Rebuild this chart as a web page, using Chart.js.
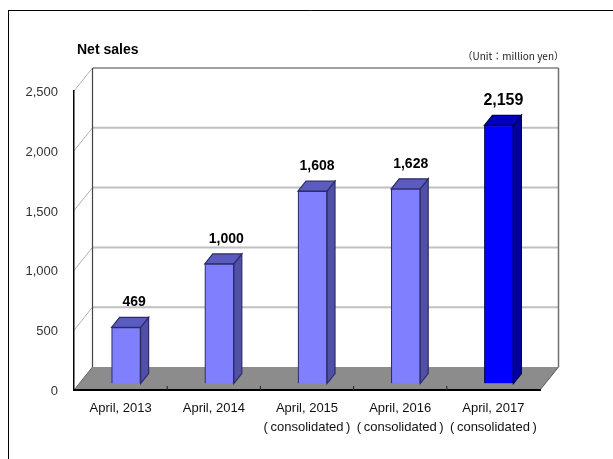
<!DOCTYPE html>
<html>
<head>
<meta charset="utf-8">
<style>
  html, body { margin: 0; padding: 0; background: #fff; }
  canvas { display: block; }
</style>
<script src="https://cdn.jsdelivr.net/npm/chart.js@4"></script>
</head>
<body>
<canvas id="salesChart" width="613" height="459"></canvas>
<script>
const categories = [
  ["April, 2013"],
  ["April, 2014"],
  ["April, 2015", "(\u2009consolidated\u2009)"],
  ["April, 2016", "(\u2009consolidated\u2009)"],
  ["April, 2017", "(\u2009consolidated\u2009)"],
];
const netSales = [469, 1000, 1608, 1628, 2159];
const yTicks = [0, 500, 1000, 1500, 2000, 2500];

const frontColors = ["#8080ff", "#8080ff", "#8080ff", "#8080ff", "#0000ff"];
const sideColors = ["#5050a8", "#5050a8", "#5050a8", "#5050a8", "#0000a0"];
const topColors = ["#5c5cc0", "#5c5cc0", "#5c5cc0", "#5c5cc0", "#0000c0"];
const edgeColors = ["#2c2c66", "#2c2c66", "#2c2c66", "#2c2c66", "#00004c"];

const FONT = '"Liberation Sans", sans-serif';
const NOTE_FONT = '"Noto Sans CJK JP", sans-serif';

// depth of the fake 3D box, and where the bars sit inside it
const WALL_DX = 18.5;
const WALL_DY = -23;
const BAR_DX = 5.5;
const BAR_DY = -6.5;
const BAR_DEPTH_X = 8;
const BAR_DEPTH_Y = -10;
// value labels are not quite centred on their bars in the original
const LABEL_NUDGE_X = [4, 3, 0.5, 1, 0.5];

function poly(ctx, pts, fill, stroke) {
  ctx.beginPath();
  pts.forEach((p, i) => (i ? ctx.lineTo(p[0], p[1]) : ctx.moveTo(p[0], p[1])));
  ctx.closePath();
  if (fill) {
    ctx.fillStyle = fill;
    ctx.fill();
  }
  if (stroke) {
    ctx.strokeStyle = stroke;
    ctx.lineWidth = 1.2;
    ctx.stroke();
  }
}

function line(ctx, x1, y1, x2, y2, color, width) {
  ctx.beginPath();
  ctx.moveTo(x1, y1);
  ctx.lineTo(x2, y2);
  ctx.strokeStyle = color;
  ctx.lineWidth = width;
  ctx.stroke();
}

// page frame, floor, back wall and grid
const boxPlugin = {
  id: "box",
  // y labels sit a little under their tick level in the original
  afterLayout(chart) {
    const yScale = chart.scales.y;
    const drawLabels = yScale.drawLabels;
    yScale.drawLabels = function (area) {
      chart.ctx.save();
      chart.ctx.translate(0, 1.5);
      drawLabels.call(this, area);
      chart.ctx.restore();
    };
  },
  beforeDraw(chart) {
    const { ctx, chartArea: a, scales } = chart;
    const base = scales.y.getPixelForValue(0);
    ctx.save();
    line(ctx, 8.5, 10.5, 613, 10.5, "#000", 1);
    line(ctx, 8.5, 10, 8.5, 459, "#000", 1);

    poly(ctx, [
      [a.left, base],
      [a.right, base],
      [a.right + WALL_DX, base + WALL_DY],
      [a.left + WALL_DX, base + WALL_DY],
    ], "#8c8c8c");

    yTicks.forEach((v) => {
      if (v === 0) return;
      const y = scales.y.getPixelForValue(v);
      const color = v === 2500 ? "#a0a0a0" : "#c0c0c0";
      line(ctx, a.left + WALL_DX, y + WALL_DY, a.right + WALL_DX, y + WALL_DY, color, 2);
      line(ctx, a.left, y, a.left + WALL_DX, y + WALL_DY, "#b0b0b0", 1);
    });

    const top = scales.y.getPixelForValue(2500);
    line(ctx, a.left + WALL_DX, top + WALL_DY, a.left + WALL_DX, base + WALL_DY, "#444", 1.2);
    line(ctx, a.right + WALL_DX, top + WALL_DY, a.right + WALL_DX, base + WALL_DY, "#707070", 1.5);
    line(ctx, a.left, base, a.left + WALL_DX, base + WALL_DY, "#666", 1);
    line(ctx, a.right, base, a.right + WALL_DX, base + WALL_DY, "#555", 1);
    ctx.restore();
  },
  // sides and tops go under the bars, all moved back into the box
  beforeDatasetsDraw(chart) {
    const { ctx } = chart;
    ctx.save();
    ctx.translate(BAR_DX, BAR_DY);
    chart.getDatasetMeta(0).data.forEach((bar, i) => {
      const l = bar.x - bar.width / 2;
      const r = bar.x + bar.width / 2;
      poly(ctx, [
        [r, bar.y],
        [r + BAR_DEPTH_X, bar.y + BAR_DEPTH_Y],
        [r + BAR_DEPTH_X, bar.base + BAR_DEPTH_Y],
        [r, bar.base],
      ], sideColors[i], edgeColors[i]);
      poly(ctx, [
        [l, bar.y],
        [l + BAR_DEPTH_X, bar.y + BAR_DEPTH_Y],
        [r + BAR_DEPTH_X, bar.y + BAR_DEPTH_Y],
        [r, bar.y],
      ], topColors[i], edgeColors[i]);
    });
  },
  afterDatasetsDraw(chart) {
    chart.ctx.restore();
  },
  // ticks, value labels, title and unit note
  afterDraw(chart) {
    const { ctx, chartArea: a, scales } = chart;
    const base = scales.y.getPixelForValue(0);
    ctx.save();
    const step = (a.right - a.left) / categories.length;
    for (let i = 1; i < categories.length; i++) {
      line(ctx, a.left + step * i, base - 4, a.left + step * i, base, "#222", 1);
    }

    ctx.fillStyle = "#000";
    ctx.textAlign = "center";
    ctx.textBaseline = "middle";
    chart.getDatasetMeta(0).data.forEach((bar, i) => {
      ctx.font = (i === 4 ? "bold 16px " : "bold 14px ") + FONT;
      const text = netSales[i].toLocaleString("en-US");
      const x = bar.x + BAR_DX + BAR_DEPTH_X / 2 + LABEL_NUDGE_X[i];
      ctx.fillText(text, x, bar.y + BAR_DY - 25);
    });

    ctx.textAlign = "left";
    ctx.font = "bold 14px " + FONT;
    ctx.fillText("Net sales", 77, 50);
    ctx.textAlign = "right";
    ctx.font = "10px " + NOTE_FONT;
    ctx.fillStyle = "#222";
    ctx.fillText("（Unit：million yen）", 564, 56);
    ctx.restore();
  },
};

new Chart(document.getElementById("salesChart").getContext("2d"), {
  type: "bar",
  data: {
    labels: categories,
    datasets: [
      {
        data: netSales,
        backgroundColor: frontColors,
        borderColor: edgeColors,
        borderWidth: 1.2,
        barThickness: 29,
      },
    ],
  },
  options: {
    responsive: false,
    animation: false,
    layout: { padding: { top: 91, right: 73, left: 0, bottom: 0 } },
    plugins: { legend: { display: false }, tooltip: { enabled: false } },
    scales: {
      x: {
        grid: { display: false },
        border: { color: "#000", width: 2 },
        ticks: {
          color: "#111",
          padding: 1,
          maxRotation: 0,
          autoSkip: false,
          font: { family: FONT, size: 13, lineHeight: 1.45 },
        },
        afterFit(scale) {
          scale.height = 69;
        },
      },
      y: {
        min: 0,
        max: 2500,
        grid: { display: false },
        border: { color: "#000", width: 1.5 },
        afterBuildTicks(scale) {
          scale.ticks = yTicks.map((value) => ({ value }));
        },
        ticks: {
          color: "#333",
          padding: 8,
          font: { family: FONT, size: 13 },
          callback: (v) => v.toLocaleString("en-US"),
        },
        afterFit(scale) {
          scale.width = 74;
        },
      },
    },
  },
  plugins: [boxPlugin],
});
</script>
</body>
</html>
